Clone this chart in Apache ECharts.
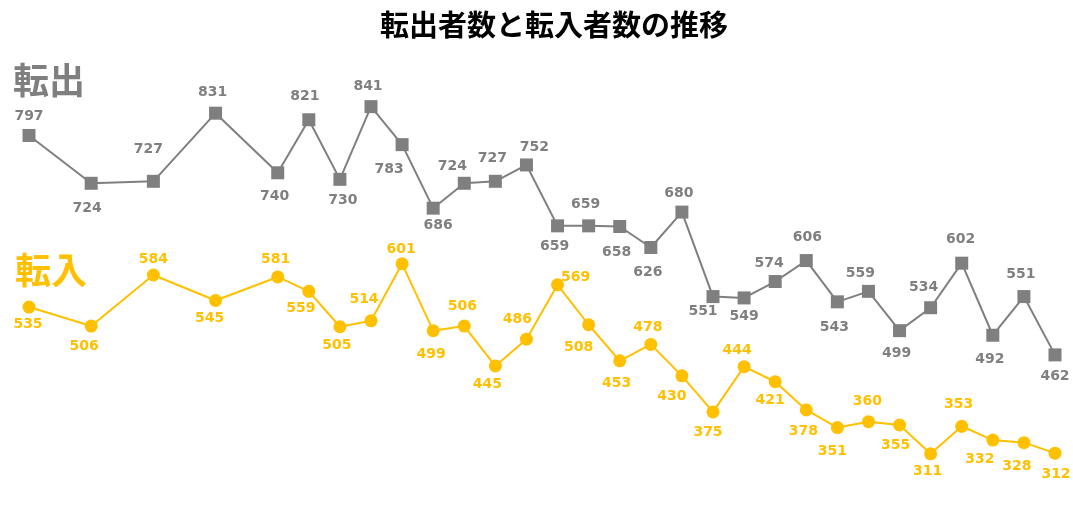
<!DOCTYPE html>
<html>
<head>
<meta charset="utf-8">
<script src="https://cdn.jsdelivr.net/npm/echarts@6/dist/echarts.min.js"></script>
<style>
html,body{margin:0;padding:0;background:#fff;}
#chart{width:1073px;height:519px;}
</style>
</head>
<body>
<div id="chart"></div>
<script>
// ---- data ----
const years = [1990,1992,1994,1996,1998,1999,2000,2001,2002,2003,2004,2005,2006,2007,2008,2009,2010,2011,2012,2013,2014,2015,2016,2017,2018,2019,2020,2021,2022,2023];
const tenshutsu = [797,724,727,831,740,821,730,841,783,686,724,727,752,659,659,658,626,680,551,549,574,606,543,559,499,534,602,492,551,462];
const tennyu = [535,506,584,545,581,559,505,514,601,499,506,445,486,569,508,453,478,430,375,444,421,378,351,360,355,311,353,332,328,312];

// ---- label placement (style, not data) ----
const grayOffsets = [[0,-19],[-4,25],[-5,-32],[-3,-21],[-3,24],[-4,-23],[3,21],[-3,-20],[-13,25],[5,17],[-12,-17],[-3,-23],[8,-18],[-3,21],[-3,-21],[-3,26],[-3,25],[-3,-19],[-10,15],[0,18],[-6,-18],[1,-23],[-3,26],[-8,-18],[-3,23],[-7,-20],[-1,-24],[-3,24],[-3,-22],[0,21]];
const yellowOffsets = [[-1,17],[-7,20],[0,-16],[-6,18],[-2,-18],[-8,17],[-3,19],[-7,-21],[-1,-14],[-2,24],[-2,-20],[-8,18],[-9,-20],[18,-7],[-10,23],[-3,23],[-3,-17],[-10,21],[-5,20],[-7,-16],[-5,19],[-3,21],[-5,24],[-1,-20],[-4,20],[-3,18],[-3,-22],[-13,19],[-7,24],[1,21]];

const GRAY = '#7F7F7F';
const GOLD = '#FFC000';
const labelFont = {fontFamily:'DejaVu Sans', fontWeight:'bold', fontSize:14};

function build(vals, offs, color){
  return vals.map((v,i)=>({
    value:[years[i], v],
    label:{show:true, position:'inside', offset:offs[i], color:color, ...labelFont, formatter: p => p.value[1]}
  }));
}

const chart = echarts.init(document.getElementById('chart'));
chart.setOption({
  animation:false,
  backgroundColor:'#fff',
  title:[
    {text:'転出者数と転入者数の推移', left:549, top:5, textAlign:'center',
     textStyle:{fontFamily:'Noto Sans CJK JP', fontWeight:'bold', fontSize:29, color:'#000'}},
    {text:'転出', left:8, top:57,
     textStyle:{fontFamily:'Noto Sans CJK JP', fontWeight:'bold', fontSize:36, color:GRAY}},
    {text:'転入', left:10, top:247,
     textStyle:{fontFamily:'Noto Sans CJK JP', fontWeight:'bold', fontSize:36, color:GOLD}}
  ],
  grid:{left:29, right:18, top:68, bottom:58},
  xAxis:{type:'value', min:1990, max:2023, show:false},
  yAxis:{type:'value', min:300, max:900, show:false},
  series:[
    {name:'転出', type:'line', data:build(tenshutsu, grayOffsets, GRAY),
     symbol:'rect', symbolSize:13, itemStyle:{color:GRAY},
     lineStyle:{color:GRAY, width:2}},
    {name:'転入', type:'line', data:build(tennyu, yellowOffsets, GOLD),
     symbol:'circle', symbolSize:13, itemStyle:{color:GOLD},
     lineStyle:{color:GOLD, width:2}}
  ]
});
</script>
</body>
</html>
